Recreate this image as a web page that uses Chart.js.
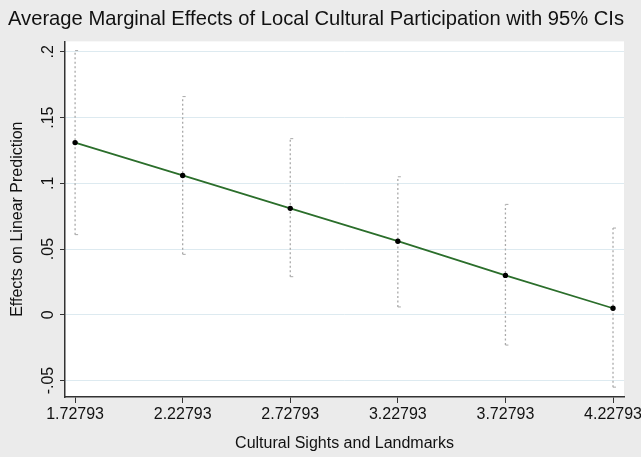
<!DOCTYPE html>
<html>
<head>
<meta charset="utf-8">
<script src="https://cdn.jsdelivr.net/npm/chart.js@4"></script>
<style>
  html, body { margin: 0; padding: 0; background: #ebebeb; }
  #wrap { width: 641px; height: 457px; }
</style>
</head>
<body>
<div id="wrap"><canvas id="chart" width="641" height="457"></canvas></div>
<script>
// values
const xVals = [1.72793, 2.22793, 2.72793, 3.22793, 3.72793, 4.22793]
const xLabels = ['1.72793', '2.22793', '2.72793', '3.22793', '3.72793', '4.22793']
const effects = [0.131, 0.106, 0.081, 0.056, 0.030, 0.005]
const ciLow = [0.061, 0.046, 0.029, 0.006, -0.023, -0.055]
const ciHigh = [0.201, 0.166, 0.134, 0.105, 0.084, 0.066]
const yTicks = [-0.05, 0, 0.05, 0.1, 0.15, 0.2]
const yLabels = ['-.05', '0', '.05', '.1', '.15', '.2']

const FONT = 'Liberation Sans, Arial, sans-serif'

const ciSets = xVals.map((x, i) => ({
    type: 'line',
    data: [{x: x, y: ciLow[i]}, {x: x, y: ciHigh[i]}],
    borderColor: '#a9a9a9',
    borderWidth: 1.3,
    borderDash: [2, 2.5],
    pointStyle: 'dash',
    pointRadius: 3,
    pointBorderColor: '#a9a9a9',
    pointBorderWidth: 1,
    order: 2
}))

const background = {
    id: 'background',
    beforeDraw(c) {
        const ctx = c.ctx
        const a = c.chartArea
        ctx.save()
        ctx.fillStyle = '#ebebeb'
        ctx.fillRect(0, 0, c.width, c.height)
        ctx.fillStyle = '#ffffff'
        ctx.fillRect(a.left, a.top, a.right - a.left, a.bottom - a.top)
        ctx.restore()
    }
}

const chart = new Chart(document.querySelector('#chart'), {
    type: 'line',
    data: {
        datasets: [{
            data: xVals.map((x, i) => ({x: x, y: effects[i]})),
            borderColor: '#2b6e2b',
            borderWidth: 1.8,
            pointBackgroundColor: '#000000',
            pointBorderColor: '#000000',
            pointRadius: 1.8,
            order: 1
        }].concat(ciSets)
    },
    options: {
        responsive: false,
        animation: false,
        layout: { padding: { left: 8, right: 17, top: 0, bottom: 0 } },
        plugins: {
            legend: { display: false },
            tooltip: { enabled: false },
            title: {
                display: true,
                text: 'Average Marginal Effects of Local Cultural Participation with 95% CIs',
                align: 'start',
                color: '#111111',
                font: { family: FONT, size: 20.3, weight: 'normal' },
                padding: { top: 7, bottom: 10 }
            }
        },
        scales: {
            x: {
                type: 'linear',
                min: 1.681,
                max: 4.279,
                afterBuildTicks: s => { s.ticks = xVals.map(v => ({value: v})) },
                afterFit: s => {
                    s.height = 60
                    s.paddingLeft = 0
                    s.paddingRight = 0
                },
                ticks: {
                    callback: (v, i) => xLabels[i],
                    color: '#111111',
                    font: { family: FONT, size: 16 },
                    maxRotation: 0,
                    autoSkip: false,
                    padding: 2
                },
                grid: { drawOnChartArea: false, tickLength: 6, tickColor: '#333333' },
                border: { color: '#333333', width: 1.5 },
                title: {
                    display: true,
                    text: 'Cultural Sights and Landmarks',
                    color: '#111111',
                    font: { family: FONT, size: 16 },
                    padding: { top: 9 }
                }
            },
            y: {
                type: 'linear',
                min: -0.0625,
                max: 0.208,
                afterBuildTicks: s => { s.ticks = yTicks.map(v => ({value: v})) },
                afterFit: s => {
                    s.width = 57
                    s.paddingTop = 0
                    s.paddingBottom = 0
                },
                ticks: {
                    callback: (v, i) => yLabels[i],
                    color: '#111111',
                    font: { family: FONT, size: 16 },
                    minRotation: 90,
                    maxRotation: 90,
                    crossAlign: 'center',
                    padding: -2
                },
                grid: { color: '#ddeaf0', lineWidth: 1, tickLength: 5, tickColor: '#333333' },
                border: { color: '#333333', width: 1.5 },
                title: {
                    display: true,
                    text: 'Effects on Linear Prediction',
                    color: '#111111',
                    font: { family: FONT, size: 16 },
                    padding: { top: 0 }
                }
            }
        }
    },
    plugins: [background]
})
</script>
</body>
</html>
